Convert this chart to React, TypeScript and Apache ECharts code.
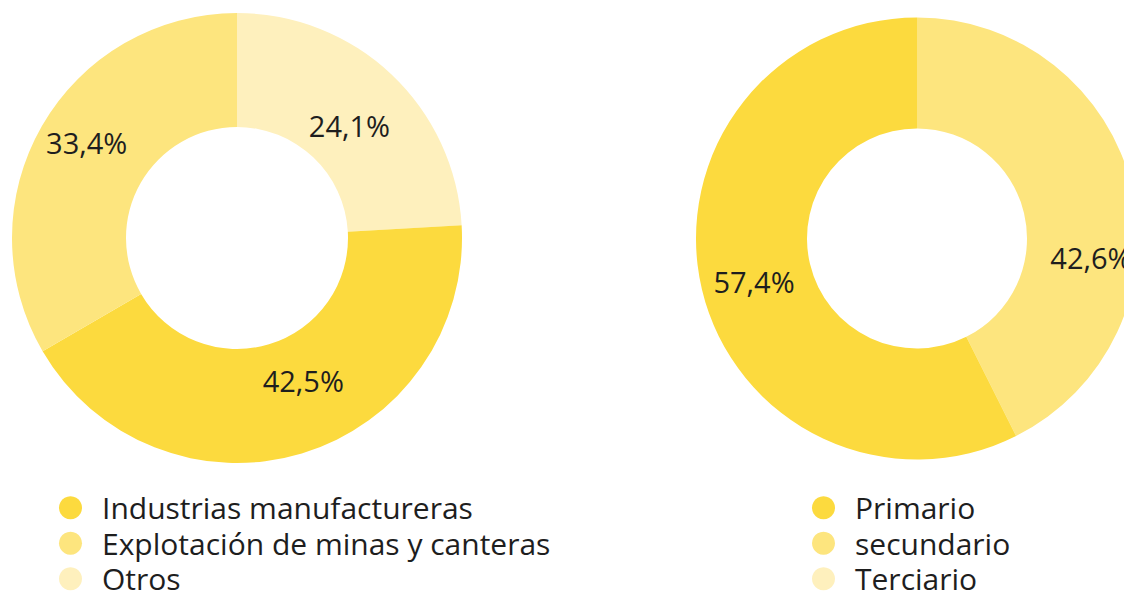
import React, { useEffect, useRef } from "react";
import * as echarts from "echarts";

// Left donut: sectors of activity (clockwise from 12 o'clock)
const leftNames = ["Otros", "Industrias manufactureras", "Explotación de minas y canteras"];
const leftValues = [24.1, 42.5, 33.4];
const leftLegend = ["Industrias manufactureras", "Explotación de minas y canteras", "Otros"];

// Right donut
const rightNames = ["secundario", "Primario", "Terciario"];
const rightValues = [42.6, 57.4, 0];
const rightLegend = ["Primario", "secundario", "Terciario"];

const COLORS: Record<string, string> = {
  "Industrias manufactureras": "#FCDA3E",
  "Explotación de minas y canteras": "#FDE57E",
  Otros: "#FEF0BD",
  Primario: "#FCDA3E",
  secundario: "#FDE57E",
  Terciario: "#FEF0BD",
};

// label nudges (dx, dy) relative to the default inside-label anchor
const leftShifts: [number, number][] = [[-5, 12], [17, -21], [-2, -10]];
const rightShifts: [number, number][] = [[10, 58], [1, 4], [0, 0]];

const FONT = "'Open Sans', 'Noto Sans', sans-serif";
const TEXT = "#1e1e1e";
const LABEL_SIZE = 29;

function fmt(v: number) {
  return v.toFixed(1).replace(".", ",") + "%";
}

function buildData(names: string[], values: number[], shifts: [number, number][]) {
  return names.map((n, i) => {
    const [dx, dy] = shifts[i];
    const txt = fmt(values[i]);
    const spacer = Math.abs(2 * dy);
    const formatter =
      dy > 0 ? `{s| }\n{v|${txt}}` : dy < 0 ? `{v|${txt}}\n{s| }` : `{v|${txt}}`;
    return {
      name: n,
      value: values[i],
      itemStyle: { color: COLORS[n] },
      label: {
        show: values[i] > 0,
        formatter,
        padding: [0, dx < 0 ? -2 * dx : 0, 0, dx > 0 ? 2 * dx : 0],
        rich: {
          s: { fontSize: 1, lineHeight: spacer, height: spacer },
          v: {
            fontFamily: FONT,
            fontSize: LABEL_SIZE,
            lineHeight: 34,
            color: TEXT,
          },
        },
      },
    };
  });
}

export default function App() {
  const ref = useRef<HTMLDivElement>(null);
  useEffect(() => {
    if (!ref.current) return;
    const chart = echarts.init(ref.current, undefined, { renderer: "svg" });
    const labelBase = {
      show: true,
      position: "inside",
      fontFamily: FONT,
      fontSize: LABEL_SIZE,
      color: TEXT,
    };
    const legendBase = {
      orient: "vertical",
      icon: "circle",
      itemWidth: 23,
      itemHeight: 23,
      itemGap: 4,
      height: 120,
      padding: 5,
      selectedMode: false,
      textStyle: {
        fontFamily: FONT,
        fontSize: 30,
        color: TEXT,
        lineHeight: 31.5,
        padding: [0, 0, 0, 15],
      },
    };
    chart.setOption({
      animation: false,
      backgroundColor: "#ffffff",
      legend: [
        { ...legendBase, left: 54, top: 487, data: leftLegend },
        { ...legendBase, left: 807, top: 487, data: rightLegend },
      ],
      series: [
        {
          type: "pie",
          center: [237, 238],
          radius: [111, 225],
          startAngle: 90,
          clockwise: true,
          avoidLabelOverlap: false,
          label: labelBase,
          labelLine: { show: false },
          emphasis: { disabled: true },
          data: buildData(leftNames, leftValues, leftShifts),
        },
        {
          type: "pie",
          center: [917, 238.5],
          radius: [110, 221],
          startAngle: 90,
          clockwise: true,
          avoidLabelOverlap: false,
          label: labelBase,
          labelLine: { show: false },
          emphasis: { disabled: true },
          data: buildData(rightNames, rightValues, rightShifts),
        },
      ],
    });
    return () => chart.dispose();
  }, []);
  return (
    <div
      ref={ref}
      style={{ position: "fixed", left: 0, top: 0, width: 1124, height: 591, background: "#fff" }}
    />
  );
}
